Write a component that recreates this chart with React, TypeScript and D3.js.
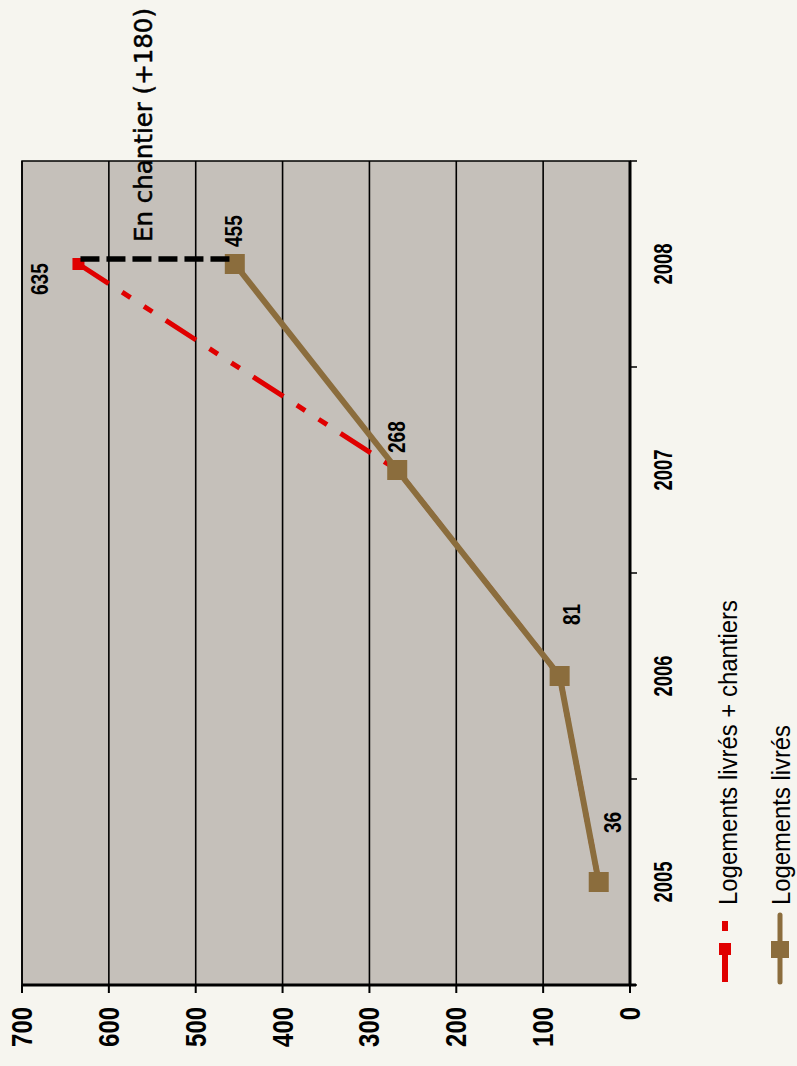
import React from "react";
import * as d3 from "d3";

// Housing delivered per year, and delivered + under construction
const years = ["2005", "2006", "2007", "2008"];
const livres = [36, 81, 268, 455];
const livresChantiers = [36, 81, 268, 635];
const valueTicks = [0, 100, 200, 300, 400, 500, 600, 700];
const seriesNames = ["Logements livrés + chantiers", "Logements livrés"];
const chantierText = "En chantier (+180)";

// label placement relative to each point (along category, along value)
const livresLabelOffsets: [number, number][] = [
  [49, 22],
  [51, 20],
  [17, 8],
  [17, 7],
];
const chantierLabelOffset: [number, number] = [-31, -30];

const W = 1066; // drawn unrotated, then turned a quarter turn
const M = { left: 81, right: 905, top: 22, bottom: 630 };

const RED = "#e00000";
const BROWN = "#8b6d3d";
const BG = "#f6f5ef";
const PLOT = "#c5c0ba";
const COND = "'Liberation Sans', Arial, sans-serif";
const DASH = "36 16 10 16 10 16";

// condensed bold numbers: squeeze glyphs to a fixed advance per character
function Num(props: {
  x: number;
  y: number;
  text: string;
  size: number;
  adv: number;
  anchor?: "start" | "middle" | "end";
  baseline?: "central" | "auto";
}) {
  return (
    <text
      x={props.x}
      y={props.y}
      textAnchor={props.anchor ?? "start"}
      dominantBaseline={props.baseline ?? "auto"}
      fontFamily={COND}
      fontWeight="bold"
      fontSize={props.size}
      textLength={props.text.length * props.adv}
      lengthAdjust="spacingAndGlyphs"
      fill="#000"
    >
      {props.text}
    </text>
  );
}

export default function App() {
  const x = d3
    .scalePoint<string>()
    .domain(years)
    .range([M.left, M.right])
    .padding(0.5);
  const y = d3.scaleLinear().domain([0, 700]).range([M.bottom, M.top]);
  const step = x.step();

  const idx = years.map((_, i) => i);
  // the red series is traced from the last year back so its dash pattern starts at the top point
  const redPath = d3
    .line<number>()
    .x((i) => x(years[i]) as number)
    .y((i) => y(livresChantiers[i]))(idx.slice().reverse()) as string;
  const brownPath = d3
    .line<number>()
    .x((i) => x(years[i]) as number)
    .y((i) => y(livres[i]))(idx) as string;

  const last = years[years.length - 1];
  const xl = x(last) as number;

  const bandEdges = d3.range(years.length + 1).map((i) => M.left + i * step);

  return (
    <svg
      width={797}
      height={1066}
      style={{ position: "absolute", left: 0, top: 0, display: "block" }}
    >
      <rect x={0} y={0} width={797} height={1066} fill={BG} />
      <g transform={`translate(0,${W}) rotate(-90)`}>
        {/* plot area */}
        <rect
          x={M.left}
          y={M.top}
          width={M.right - M.left}
          height={M.bottom - M.top}
          fill={PLOT}
          stroke="#000"
          strokeWidth={1.5}
        />
        {valueTicks
          .filter((v) => v > 0)
          .map((v) => (
            <line
              key={v}
              x1={M.left}
              x2={M.right}
              y1={y(v)}
              y2={y(v)}
              stroke="#000"
              strokeWidth={1.6}
            />
          ))}

        {/* delivered + under construction */}
        <path d={redPath} fill="none" stroke={RED} strokeWidth={5} strokeDasharray={DASH} />
        {livresChantiers.map((v, i) => (
          <rect
            key={i}
            x={(x(years[i]) as number) - 6}
            y={y(v) - 6}
            width={12}
            height={12}
            fill={RED}
          />
        ))}

        {/* delivered */}
        <path d={brownPath} fill="none" stroke={BROWN} strokeWidth={6} strokeLinejoin="round" />
        {livres.map((v, i) => (
          <rect
            key={i}
            x={(x(years[i]) as number) - 10}
            y={y(v) - 10}
            width={20}
            height={20}
            fill={BROWN}
          />
        ))}

        {/* gap between the two series in the last year */}
        <line
          x1={xl + 5}
          x2={xl + 5}
          y1={y(livresChantiers[livresChantiers.length - 1]) + 2}
          y2={y(livres[livres.length - 1])}
          stroke="#000"
          strokeWidth={5.5}
          strokeDasharray="19 7"
        />
        <text
          x={xl + 22}
          y={152}
          fontFamily="'DejaVu Sans', sans-serif"
          fontSize={25}
          textLength={234}
          lengthAdjust="spacingAndGlyphs"
          stroke="#000"
          strokeWidth={0.5}
          fill="#000"
        >
          {chantierText}
        </text>

        {/* value labels */}
        {livres.map((v, i) => (
          <Num
            key={i}
            x={(x(years[i]) as number) + livresLabelOffsets[i][0]}
            y={y(v) + livresLabelOffsets[i][1]}
            text={String(v)}
            size={24}
            adv={10.6}
          />
        ))}
        <Num
          x={xl + chantierLabelOffset[0]}
          y={y(livresChantiers[livresChantiers.length - 1]) + chantierLabelOffset[1]}
          text={String(livresChantiers[livresChantiers.length - 1])}
          size={24}
          adv={10.6}
        />

        {/* value axis */}
        <line x1={M.left} x2={M.left} y1={M.top} y2={M.bottom + 6} stroke="#000" strokeWidth={3} />
        {valueTicks.map((v) => (
          <g key={v}>
            <line x1={M.left - 8} x2={M.left} y1={y(v)} y2={y(v)} stroke="#000" strokeWidth={2} />
            <Num
              x={59}
              y={y(v)}
              text={String(v)}
              size={29}
              adv={13.3}
              anchor="end"
              baseline="central"
            />
          </g>
        ))}

        {/* category axis */}
        <line x1={M.left} x2={M.right} y1={M.bottom} y2={M.bottom} stroke="#000" strokeWidth={3} />
        {bandEdges.map((e, i) => (
          <line key={i} x1={e} x2={e} y1={M.bottom} y2={M.bottom + 7} stroke="#000" strokeWidth={1.5} />
        ))}
        {years.map((yr) => (
          <Num
            key={yr}
            x={x(yr) as number}
            y={672}
            text={yr}
            size={25}
            adv={10.3}
            anchor="middle"
          />
        ))}

        {/* legend */}
        <line x1={84} x2={145} y1={725} y2={725} stroke={RED} strokeWidth={6} strokeDasharray="36 15 10 15" />
        <rect x={111} y={719} width={12} height={12} fill={RED} />
        <text
          x={161}
          y={737}
          fontFamily="'Liberation Sans', Arial, sans-serif"
          fontSize={26}
          textLength={305}
          lengthAdjust="spacingAndGlyphs"
          fill="#000"
        >
          {seriesNames[0]}
        </text>
        <line x1={84} x2={151} y1={780} y2={780} stroke={BROWN} strokeWidth={5} strokeLinecap="round" />
        <rect x={108} y={771} width={17} height={18} fill={BROWN} />
        <text
          x={161}
          y={790}
          fontFamily="'Liberation Sans', Arial, sans-serif"
          fontSize={26}
          textLength={180}
          lengthAdjust="spacingAndGlyphs"
          fill="#000"
        >
          {seriesNames[1]}
        </text>
      </g>
    </svg>
  );
}
